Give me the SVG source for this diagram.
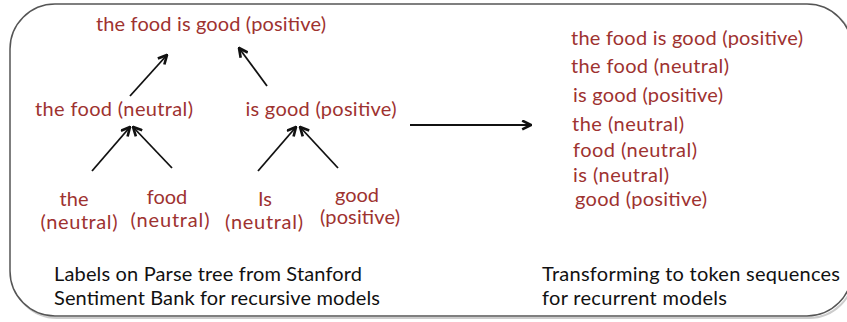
<svg xmlns="http://www.w3.org/2000/svg" width="847" height="322" viewBox="0 0 847 322">
<style>
.r{font-family:"Lato","Open Sans",sans-serif;font-size:20px;fill:#9e3230;text-anchor:middle}
.rl{font-family:"Lato","Open Sans",sans-serif;font-size:20px;fill:#9e3230}
.k{font-family:"Lato","Open Sans",sans-serif;font-size:20px;fill:#111}
.c{stroke:#111;stroke-width:1.8;fill:none}
</style>
<defs>
<marker id="ah" viewBox="0 0 10 10" refX="9" refY="5" markerWidth="11" markerHeight="11" markerUnits="userSpaceOnUse" orient="auto">
<path d="M1,1 L9,5 L1,9" fill="none" stroke="#111" stroke-width="2.4"/>
</marker>
</defs>
<rect x="12" y="6" width="842" height="312" rx="45" fill="none" stroke="#ccc" stroke-width="2"/>
<rect x="10" y="4" width="842" height="312" rx="45" fill="#fff" stroke="#555" stroke-width="1.5"/>
<g id="connectors">
<line class="c" x1="130" y1="96" x2="167" y2="55" marker-end="url(#ah)"/>
<line class="c" x1="267" y1="86" x2="239" y2="48" marker-end="url(#ah)"/>
<line class="c" x1="92" y1="171" x2="130" y2="127" marker-end="url(#ah)"/>
<line class="c" x1="172" y1="168" x2="133" y2="127" marker-end="url(#ah)"/>
<line class="c" x1="258" y1="171" x2="296" y2="127" marker-end="url(#ah)"/>
<line class="c" x1="338" y1="168" x2="300" y2="127" marker-end="url(#ah)"/>
<line class="c" x1="410" y1="125" x2="531" y2="125" marker-end="url(#ah)"/>
</g>
<g id="root"><text class="r" x="211" y="31" textLength="230">the food is good (positive)</text></g>
<g id="the-food"><text class="r" x="114" y="116" textLength="158">the food (neutral)</text></g>
<g id="is-good"><text class="r" x="321" y="116" textLength="151">is good (positive)</text></g>
<g id="leaf-the"><text class="r" x="74" y="206">the</text><text class="r" x="79" y="229" textLength="77">(neutral)</text></g>
<g id="leaf-food"><text class="r" x="167" y="204">food</text><text class="r" x="170" y="227" textLength="79">(neutral)</text></g>
<g id="leaf-is"><text class="r" x="265" y="206">Is</text><text class="r" x="264" y="229" textLength="78">(neutral)</text></g>
<g id="leaf-good"><text class="r" x="357" y="202">good</text><text class="r" x="360" y="224" textLength="80">(positive)</text></g>
<g id="caption-left"><text class="k" x="54" y="281" textLength="308">Labels on Parse tree from Stanford</text><text class="k" x="54" y="305" textLength="326">Sentiment Bank for recursive models</text></g>
<g id="sequences">
<text class="rl" x="571" y="45" textLength="232">the food is good (positive)</text>
<text class="rl" x="571" y="73" textLength="158">the food (neutral)</text>
<text class="rl" x="573" y="102" textLength="150">is good (positive)</text>
<text class="rl" x="572" y="131" textLength="112">the (neutral)</text>
<text class="rl" x="573" y="157" textLength="124">food (neutral)</text>
<text class="rl" x="573" y="182" textLength="96">is (neutral)</text>
<text class="rl" x="575" y="206" textLength="132">good (positive)</text>
</g>
<g id="caption-right"><text class="k" x="542" y="281" textLength="298">Transforming to token sequences</text><text class="k" x="542" y="305" textLength="185">for recurrent models</text></g>
</svg>
